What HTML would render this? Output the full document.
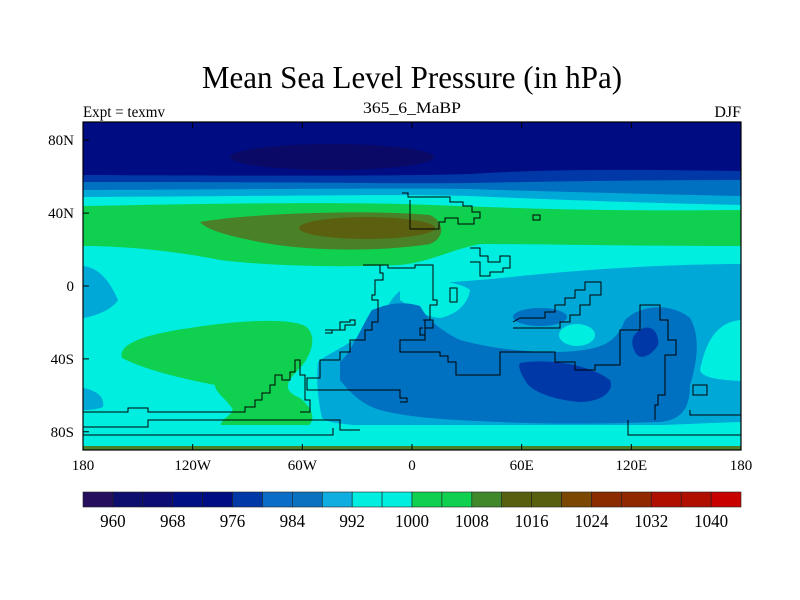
<!DOCTYPE html>
<html><head><meta charset="utf-8"><style>
html,body{margin:0;padding:0;background:#fff;width:800px;height:600px;overflow:hidden}
svg text{font-family:"Liberation Serif",serif;fill:#000}
</style></head><body>
<svg id="chart" width="800" height="600" viewBox="0 0 800 600" xmlns="http://www.w3.org/2000/svg">
<text x="412" y="88" font-size="32" text-anchor="middle" textLength="420" lengthAdjust="spacingAndGlyphs">Mean Sea Level Pressure (in hPa)</text>
<text x="412" y="113" font-size="16" text-anchor="middle" textLength="98" lengthAdjust="spacingAndGlyphs">365_6_MaBP</text>
<text x="83" y="117" font-size="16" textLength="82" lengthAdjust="spacingAndGlyphs">Expt = texmv</text>
<text x="741" y="117" font-size="16" text-anchor="end">DJF</text>
<defs><clipPath id="mapclip"><rect x="83" y="122" width="658" height="328"/></clipPath></defs>
<g clip-path="url(#mapclip)">
<rect x="83" y="122" width="658" height="328" fill="#00eee0"/>
<path fill="#00a8d8" d="M83,122 H741 V205 C650,203 560,200 470,196 C400,194 300,196 83,197 Z"/>
<path fill="#0070c0" d="M83,122 H741 V196 C650,194 560,192 470,189 C400,188 300,189 83,190 Z"/>
<path fill="#0038a8" d="M83,122 H741 V180 C650,180 560,181 470,183 C400,184 300,182 83,182 Z"/>
<path fill="#000c82" d="M83,122 H741 V171 C650,170 560,168 470,174 C400,176 300,176 83,175 Z"/>
<ellipse cx="332" cy="157" rx="102" ry="13" fill="#0a0a66"/>
<path fill="#10d050" d="M83,206 C200,204 300,202 400,204 C480,206 560,212 741,210 V246 C620,246 540,244 480,244 C450,250 430,262 400,265 C330,268 260,265 220,260 C160,248 110,246 83,246 Z"/>
<path fill="#4a8028" d="M200,222 C260,212 380,210 430,215 C445,222 445,238 430,244 C380,252 300,252 250,240 C220,234 205,228 200,222 Z"/>
<ellipse cx="367" cy="228" rx="68" ry="11" fill="#5a6010"/>
<path fill="#10d050" d="M122,358 C118,345 140,335 190,328 C240,320 290,318 305,326 C318,335 312,355 300,368 C288,380 280,390 300,398 C315,410 318,425 300,430 C270,436 230,436 222,430 C215,420 236,415 232,408 C225,398 215,392 215,385 C190,380 150,372 122,358 Z"/>
<path fill="#00a8d8" d="M83,266 C100,268 110,282 118,300 C112,310 95,316 83,318 Z"/>
<path fill="#00a8d8" d="M83,388 C95,390 105,396 103,407 C95,410 88,410 83,410 Z"/>
<path fill="#00a8d8" d="M318,362 C330,352 360,340 380,320 C388,305 395,292 405,288 C430,282 470,282 520,276 C600,268 680,264 741,264 V422 C680,424 600,428 560,430 C500,432 440,432 400,428 C360,425 330,425 322,418 C318,400 316,380 318,362 Z"/>
<path fill="#00eee0" d="M400,282 C430,278 460,282 470,290 C468,305 455,315 440,318 C420,316 408,305 400,300 Z"/>
<ellipse cx="577" cy="335" rx="18" ry="11" fill="#00eee0"/>
<path fill="#00eee0" d="M741,320 C715,322 705,345 700,370 C702,378 720,380 741,381 Z"/>
<path fill="#00eee0" d="M83,425 H741 V450 H83 Z"/>
<path fill="#0070c0" d="M340,362 C350,355 365,320 372,310 C385,305 400,300 420,306 C428,320 440,330 460,340 C490,348 520,352 560,352 C600,350 615,345 625,320 C640,305 670,302 690,318 C700,335 698,360 690,385 C690,410 680,420 660,422 C600,424 540,424 500,422 C450,420 410,418 380,410 C360,404 348,390 340,380 Z"/>
<ellipse cx="540" cy="317" rx="27" ry="9" fill="#0070c0"/>
<path fill="#0038a8" d="M520,363 C550,358 590,365 610,380 C615,392 600,402 580,402 C555,400 530,392 525,380 C520,372 518,366 520,363 Z"/>
<path fill="#0038a8" d="M640,330 C652,322 660,335 658,345 C652,355 640,362 635,352 C630,342 632,335 640,330 Z"/>
<rect x="83" y="446" width="658" height="4" fill="#4a8028"/>
<g fill="none" stroke="#000" stroke-width="1">
<polyline points="402,193 408,193 408,197 450,197 450,202 463,202 463,206 472,206 472,212 480,212 480,218 474,218 474,224 458,224 458,218 445,218 445,222 439,222 439,229 410,229 410,200"/>
<polyline points="363,265 380,265 380,273 383,273 383,280 375,280 375,295 372,295 372,300 378,300 378,322 372,322 372,330 365,330 365,340 350,340 350,352 340,352 340,360 320,360 320,378 307,378 307,390 400,390 400,398 407,398 407,402 400,402"/>
<polyline points="380,265 388,265 388,268 415,268 415,265 433,265 433,300 437,300 437,305 430,305 430,320 425,320 425,340 400,340 400,352 440,352 440,356 448,356 448,362 456,362 456,375 500,375 500,352 555,352 555,362 575,362 575,370 595,370 595,365 620,365 620,330 640,330 640,305 660,305 660,320 668,320 668,340 676,340 676,355 665,355 665,395 658,395 658,405 655,405 655,420"/>
<polyline points="513,322 520,318 545,318 545,312 555,312 555,305 565,305 565,298 575,298 575,290 585,290 585,282 601,282 601,295 590,295 590,305 580,305 580,315 570,315 570,322 560,322 560,328 513,328 Z"/>
<polyline points="470,248 480,248 480,256 488,256 488,262 500,262 500,256 510,256 510,268 503,268 503,272 490,272 490,276 480,276 480,262 470,262 Z"/>
<rect x="450" y="288" width="7" height="14"/>
<rect x="533" y="215" width="7" height="5"/>
<polyline points="325,330 340,330 340,322 350,322 350,320 355,320 355,325 345,325 345,330 332,330 332,333 325,333 Z"/>
<polyline points="423,320 433,320 433,328 425,328 425,335 420,335 420,328 423,328"/>
<polyline points="83,412 128,412 128,408 148,408 148,412 245,412 245,407 255,407 255,400 262,400 262,393 270,393 270,385 275,385 275,375 282,375 282,380 290,380 290,372 295,372 295,360 300,360 300,375 305,375 305,400 310,400 310,412 300,412"/>
<polyline points="83,427 148,427 148,420 340,420 340,430 360,430"/>
<polyline points="83,435 333,435 333,428"/>
<polyline points="628,420 628,435 741,435"/>
<polyline points="690,410 690,415 741,415 741,425"/>
<rect x="693" y="385" width="14" height="10"/>
</g>
</g>
<rect x="83" y="122" width="658" height="328" fill="none" stroke="#000" stroke-width="1.2"/>
<g id="axes"></g>
<g id="colorbar"></g>
</svg>
<script>
const latLabels=["80N","40N","0","40S","80S"];
const latValues=[80,40,0,-40,-80];
const lonLabels=["180","120W","60W","0","60E","120E","180"];
const lonValues=[-180,-120,-60,0,60,120,180];
const cbLevels=[960,968,976,984,992,1000,1008,1016,1024,1032,1040];
const cbColors=["#26105e","#0e0e6e","#0c0c74","#001084","#000c84","#0038a8","#0a6ec8","#0872c0","#10aee0","#00eee0","#00eee0","#10d050","#10d050","#40882a","#586010","#586010","#7a4800","#8a2c00","#902800","#b01000","#b01000","#c80000"];
const NS="http://www.w3.org/2000/svg";
const X0=83,X1=741,Y0=122,Y1=450;
const xs=lon=>X0+(lon+180)/360*(X1-X0);
const ys=lat=>Y0+(90-lat)/180*(Y1-Y0);
const ax=document.getElementById('axes');
function mk(t,a,p){const e=document.createElementNS(NS,t);for(const k in a)e.setAttribute(k,a[k]);p.appendChild(e);return e;}
latValues.forEach((v,i)=>{
 const t=mk('text',{x:74,y:ys(v)+5,'font-size':15,'text-anchor':'end'},ax);
 
 
 t.textContent=latLabels[i];
 const l=mk('line',{x1:X0,x2:X0+6,y1:ys(v),y2:ys(v),stroke:'#000'},ax);
 
 
});
lonValues.forEach((v,i)=>{
 const t=mk('text',{x:xs(v),y:470,'font-size':15,'text-anchor':'middle'},ax);
 
 
 t.textContent=lonLabels[i];
 const l=mk('line',{x1:xs(v),x2:xs(v),y1:Y1,y2:Y1-6,stroke:'#000'},ax);
 
 
 const l2=mk('line',{x1:xs(v),x2:xs(v),y1:Y0,y2:Y0+6,stroke:'#000'},ax);
 
 
});
const cb=document.getElementById('colorbar');
const n=cbColors.length,bw=(X1-X0)/n;
cbColors.forEach((c,i)=>{
 const r=mk('rect',{x:X0+i*bw,y:492,width:bw,height:15,fill:c,stroke:'#222','stroke-width':0.6},cb);
 
 
});
cbLevels.forEach((v,i)=>{
 const t=mk('text',{x:X0+(1+2*i)*bw,y:527,'font-size':18,'text-anchor':'middle',textLength:String(v).length*8.5,lengthAdjust:'spacingAndGlyphs'},cb);
 
 
 t.textContent=v;
});
</script>
</body></html>
